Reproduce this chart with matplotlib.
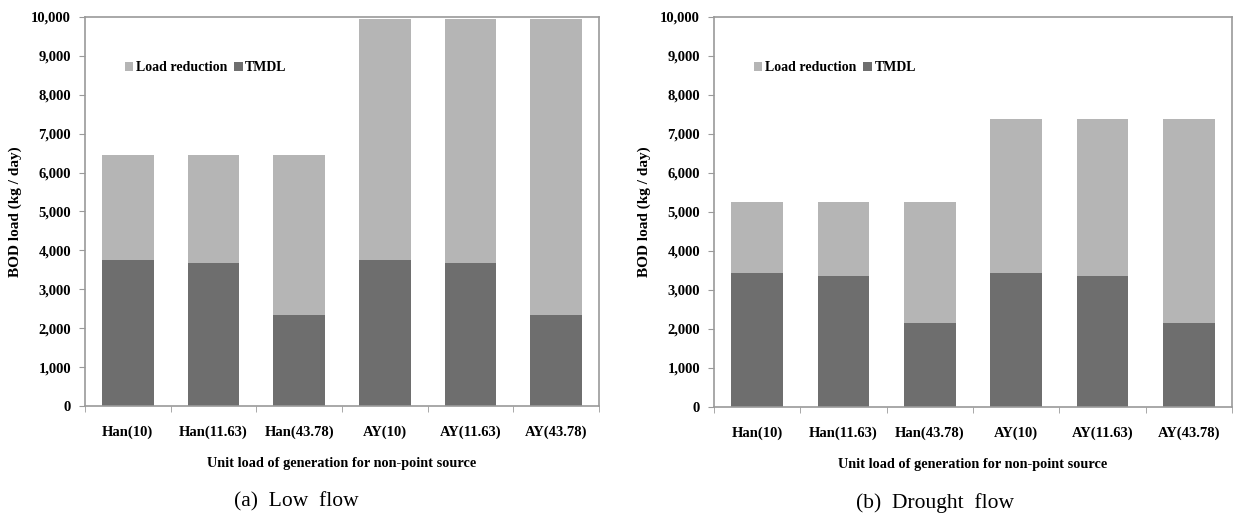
import numpy as np
import matplotlib.pyplot as plt

plt.rcParams['font.family'] = ['Liberation Serif', 'DejaVu Serif']

categories = ['Han(10)', 'Han(11.63)', 'Han(43.78)', 'AY(10)', 'AY(11.63)', 'AY(43.78)']

# BOD load (kg/day): total load and TMDL part, reduction = total - TMDL
low_total = [6450, 6450, 6450, 9950, 9950, 9950]
low_tmdl = [3750, 3680, 2330, 3750, 3680, 2330]
drought_total = [5250, 5250, 5250, 7380, 7380, 7380]
drought_tmdl = [3430, 3370, 2150, 3430, 3370, 2150]

captions = ['(a)  Low  flow', '(b)  Drought  flow']
light = '#b5b5b5'
dark = '#6e6e6e'
frame = '#9a9a9a'

fig = plt.figure(figsize=(12.35, 5.13), dpi=100)
ax1 = fig.add_axes([85 / 1235, 107 / 513, 514 / 1235, 389 / 513])
ax2 = fig.add_axes([714 / 1235, 106 / 513, 518 / 1235, 390 / 513])

x = np.arange(len(categories))
for ax, total, tmdl, cap, cx in [(ax1, low_total, low_tmdl, captions[0], 0.412),
                                 (ax2, drought_total, drought_tmdl, captions[1], 0.427)]:
    tmdl = np.array(tmdl)
    reduction = np.array(total) - tmdl
    ax.bar(x, tmdl, width=0.6, color=dark, label='TMDL')
    ax.bar(x, reduction, width=0.6, bottom=tmdl, color=light, label='Load reduction')
    ax.set_xlim(-0.5, len(categories) - 0.5)
    ax.set_ylim(0, 10000)
    ax.set_yticks(np.arange(0, 10001, 1000))
    ax.set_yticklabels([f'{v:,}' for v in range(0, 10001, 1000)],
                       fontsize=10.5, fontweight='bold')
    ax.set_xticks(x)
    ax.set_xticklabels(categories, fontsize=10.5, fontweight='bold')
    ax.set_xticks(np.arange(-0.5, len(categories)), minor=True)
    ax.tick_params(axis='x', which='major', length=0, pad=14)
    ax.tick_params(axis='x', which='minor', length=4, color=frame, direction='out')
    ax.tick_params(axis='y', length=4, color=frame, direction='out', pad=6)
    for s in ax.spines.values():
        s.set_color(frame)
        s.set_linewidth(1.2)
    ax.set_ylabel('BOD load (kg / day)', fontsize=11, fontweight='bold', labelpad=7)
    ax.set_xlabel('Unit load of generation for non-point source',
                  fontsize=10.3, fontweight='bold', labelpad=13)
    h, l = ax.get_legend_handles_labels()
    ax.legend(h[::-1], l[::-1], loc='upper left', bbox_to_anchor=(0.053, 0.918),
              ncol=2, frameon=False, handlelength=0.6, handleheight=0.6,
              handletextpad=0.2, columnspacing=0.5,
              prop={'weight': 'bold', 'size': 10})
    ax.text(cx, -0.247, cap, transform=ax.transAxes, ha='center', va='center',
            fontsize=15.5)

fig.savefig('out.png', dpi=100)
